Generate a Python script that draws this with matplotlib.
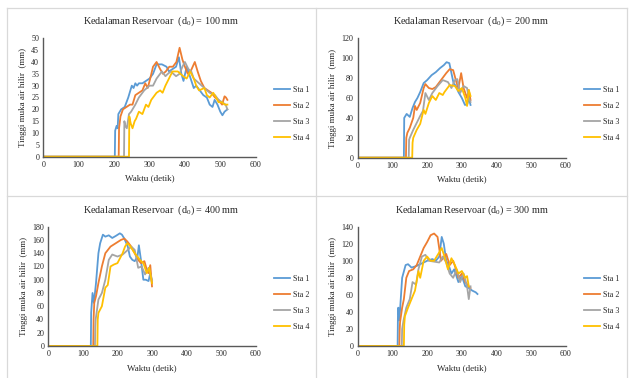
import matplotlib
matplotlib.use("Agg")
import matplotlib.pyplot as plt
from matplotlib.lines import Line2D

plt.rcParams['font.family'] = ['Liberation Serif', 'DejaVu Serif']
plt.rcParams['mathtext.fontset'] = 'custom'
plt.rcParams['mathtext.rm'] = 'Liberation Serif'
plt.rcParams['mathtext.it'] = 'Liberation Serif:italic'

stations = ["Sta 1", "Sta 2", "Sta 3", "Sta 4"]
colors = ["#5B9BD5", "#ED7D31", "#A5A5A5", "#FFC000"]

# ---- d0 = 100 mm ----
t100_s1 = [0, 202, 203, 207, 210, 212, 220, 230, 240, 250, 255, 260, 265, 270, 280, 290, 300, 310, 320, 335, 348, 355, 365, 375, 383, 390, 396, 405, 414, 425, 432, 442, 452, 462, 470, 478, 484, 492, 500, 506, 512, 520]
v100_s1 = [0, 0, 11, 13, 12, 18, 20, 21, 25, 30, 29, 31, 30, 31, 31, 32, 33, 35, 39, 39, 38, 36, 37, 38, 42, 35, 32, 38, 34, 29, 30, 28, 26, 25, 22, 21, 24, 22, 19, 17.5, 19, 20]
t100_s2 = [0, 213, 214, 218, 225, 235, 245, 252, 260, 270, 280, 288, 295, 302, 310, 320, 330, 338, 346, 356, 366, 376, 385, 393, 400, 408, 416, 428, 436, 445, 455, 465, 475, 485, 495, 505, 512, 516, 520]
v100_s2 = [0, 0, 12, 17, 20, 21, 22, 22, 26, 27, 28, 31, 29, 33, 38, 40, 37, 35, 36, 38, 38, 40, 46, 41, 38, 35, 36, 40, 36, 32, 29, 28, 27, 25, 24, 22, 25.5, 25, 24]
t100_s3 = [0, 228, 229, 232, 236, 242, 248, 260, 270, 285, 300, 310, 320, 335, 345, 352, 360, 375, 385, 393, 400, 410, 418, 425, 440, 455, 470, 485, 495, 505, 515, 520]
v100_s3 = [0, 0, 15, 13, 12, 18, 19, 22, 25, 28, 30, 30, 33, 36, 34, 35, 36, 34, 35, 38, 40, 37, 36, 33, 31, 29, 27, 26, 24, 23, 22, 20]
t100_s4 = [0, 242, 243, 247, 252, 258, 262, 270, 280, 290, 297, 305, 320, 330, 337, 345, 355, 365, 380, 395, 405, 415, 425, 432, 440, 455, 462, 470, 480, 488, 495, 505, 512, 520]
v100_s4 = [0, 0, 17, 14, 12, 15, 16, 19, 18, 22, 21, 24, 27, 28, 27, 30, 33, 36, 36, 34, 33, 36, 33, 30, 28, 29, 26, 25, 27, 25, 23, 23, 22, 22]

# ---- d0 = 200 mm ----
t200_s1 = [0, 133, 134, 141, 150, 158, 165, 172, 180, 190, 200, 213, 225, 237, 248, 256, 264, 270, 276, 283, 290, 300, 309, 316, 320, 325]
v200_s1 = [0, 0, 40, 44, 41, 50, 56, 60, 66, 75, 78, 83, 86, 90, 93, 96, 95, 85, 75, 72, 66, 60, 53, 54, 60, 53]
t200_s2 = [0, 139, 140, 143, 150, 160, 165, 170, 180, 190, 195, 205, 215, 225, 240, 255, 265, 275, 285, 290, 298, 305, 315, 320, 325]
v200_s2 = [0, 0, 20, 25, 30, 40, 52, 48, 55, 70, 74, 70, 69, 71, 78, 85, 89, 88, 75, 70, 85, 70, 60, 68, 58]
t200_s3 = [0, 147, 148, 150, 160, 170, 180, 188, 195, 205, 215, 230, 245, 260, 270, 280, 287, 295, 305, 315, 320, 325]
v200_s3 = [0, 0, 18, 20, 28, 35, 42, 47, 65, 58, 65, 72, 78, 76, 70, 78, 79, 65, 72, 70, 60, 56]
t200_s4 = [0, 157, 158, 160, 170, 180, 190, 195, 205, 215, 225, 235, 245, 250, 265, 280, 290, 300, 310, 315, 320, 325]
v200_s4 = [0, 0, 15, 20, 28, 34, 48, 44, 55, 62, 58, 65, 63, 66, 73, 72, 67, 70, 60, 52, 68, 62]

# ---- d0 = 400 mm ----
t400_s1 = [0, 123, 124, 128, 132, 138, 145, 150, 158, 165, 175, 185, 195, 207, 213, 220, 230, 236, 243, 250, 258, 262, 268, 275, 282, 290, 295, 300]
v400_s1 = [0, 0, 50, 80, 65, 95, 140, 155, 168, 165, 167, 163, 166, 170, 168, 162, 150, 135, 130, 128, 135, 152, 130, 100, 100, 98, 110, 95]
t400_s2 = [0, 130, 131, 133, 138, 145, 155, 165, 180, 195, 210, 220, 228, 240, 250, 260, 268, 278, 285, 290, 295, 300]
v400_s2 = [0, 0, 40, 65, 75, 95, 120, 140, 150, 155, 160, 162, 158, 150, 140, 130, 125, 128, 115, 110, 122, 90]
t400_s3 = [0, 135, 136, 137, 145, 155, 165, 175, 185, 200, 215, 230, 240, 250, 260, 270, 280, 290, 300]
v400_s3 = [0, 0, 30, 40, 70, 80, 100, 130, 138, 135, 138, 145, 150, 145, 118, 120, 108, 118, 100]
t400_s4 = [0, 142, 143, 145, 155, 165, 172, 180, 190, 200, 215, 222, 228, 235, 250, 265, 275, 285, 292, 300]
v400_s4 = [0, 0, 40, 50, 60, 88, 92, 120, 123, 125, 140, 150, 155, 152, 140, 130, 125, 110, 118, 95]

# ---- d0 = 300 mm ----
t300_s1 = [0, 115, 116, 117, 120, 128, 138, 145, 155, 170, 185, 200, 215, 225, 235, 242, 248, 255, 262, 270, 278, 290, 300, 310, 320, 330, 340, 345]
v300_s1 = [0, 0, 40, 45, 30, 80, 95, 96, 92, 94, 97, 100, 102, 100, 105, 128, 120, 100, 95, 85, 90, 75, 82, 70, 68, 65, 63, 61]
t300_s2 = [0, 120, 121, 122, 128, 133, 140, 148, 160, 170, 180, 190, 200, 210, 220, 230, 240, 255, 265, 275, 283, 290, 300, 310, 320, 325]
v300_s2 = [0, 0, 20, 28, 45, 55, 80, 88, 90, 95, 105, 115, 122, 130, 132, 128, 100, 108, 95, 100, 90, 80, 85, 75, 70, 68]
t300_s3 = [0, 127, 128, 132, 140, 150, 158, 168, 175, 185, 195, 205, 220, 235, 245, 255, 265, 275, 285, 295, 305, 315, 320, 325]
v300_s3 = [0, 0, 20, 30, 45, 55, 75, 72, 90, 105, 107, 100, 99, 98, 105, 98, 85, 80, 90, 75, 85, 70, 55, 70]
t300_s4 = [0, 133, 134, 136, 145, 155, 165, 175, 180, 190, 200, 210, 220, 235, 242, 250, 260, 270, 280, 290, 300, 310, 315, 320]
v300_s4 = [0, 0, 25, 35, 45, 55, 65, 88, 80, 100, 105, 100, 100, 110, 115, 105, 90, 103, 95, 85, 88, 80, 82, 70]

panels = [
    dict(title="Kedalaman Reservoar  (d$_0$) = 100 mm", ymax=50, ystep=5,
         series=[(t100_s1, v100_s1), (t100_s2, v100_s2), (t100_s3, v100_s3), (t100_s4, v100_s4)],
         ax_px=(43.3, 38.3, 255.7, 156.7), box=(7, 8, 316, 196), title_y=21,
         leg=(270, 82)),
    dict(title="Kedalaman Reservoar  (d$_0$) = 200 mm", ymax=120, ystep=20,
         series=[(t200_s1, v200_s1), (t200_s2, v200_s2), (t200_s3, v200_s3), (t200_s4, v200_s4)],
         ax_px=(357.7, 38.3, 566, 157.7), box=(316, 8, 627, 196), title_y=21,
         leg=(580, 82)),
    dict(title="Kedalaman Reservoar  (d$_0$) = 400 mm", ymax=180, ystep=20,
         series=[(t400_s1, v400_s1), (t400_s2, v400_s2), (t400_s3, v400_s3), (t400_s4, v400_s4)],
         ax_px=(48.3, 226.7, 255.7, 346), box=(7, 196, 316, 380), title_y=210,
         leg=(270, 271)),
    dict(title="Kedalaman Reservoar (d$_0$) = 300 mm", ymax=140, ystep=20,
         series=[(t300_s1, v300_s1), (t300_s2, v300_s2), (t300_s3, v300_s3), (t300_s4, v300_s4)],
         ax_px=(357.7, 226.7, 566, 346), box=(316, 196, 627, 380), title_y=210,
         leg=(580, 271)),
]

W, H = 633, 378
fig = plt.figure(figsize=(W / 100, H / 100), dpi=100)
fig.patch.set_facecolor("white")

border = "#d9d9d9"
fig.add_artist(Line2D([7 / W, 627 / W], [1 - 8 / H, 1 - 8 / H], color=border, lw=0.9))
fig.add_artist(Line2D([7 / W, 627 / W], [1 - 196 / H, 1 - 196 / H], color=border, lw=0.9))
fig.add_artist(Line2D([7 / W, 7 / W], [1 - 8 / H, 0], color=border, lw=0.9))
fig.add_artist(Line2D([316 / W, 316 / W], [1 - 8 / H, 0], color=border, lw=0.9))
fig.add_artist(Line2D([627 / W, 627 / W], [1 - 8 / H, 0], color=border, lw=0.9))

txt = "#262626"
for p in panels:
    x0, y0, x1, y1 = p["ax_px"]
    ax = fig.add_axes([x0 / W, 1 - y1 / H, (x1 - x0) / W, (y1 - y0) / H])
    for (t, v), c, lab in zip(p["series"], colors, stations):
        ax.plot(t, v, color=c, lw=1.3, label=lab, solid_joinstyle="round")
    ax.set_xlim(0, 600)
    ax.set_ylim(0, p["ymax"])
    ax.set_xticks(range(0, 601, 100))
    ax.set_yticks(range(0, p["ymax"] + 1, p["ystep"]))
    ax.tick_params(length=0, labelsize=5.8, pad=3, colors=txt)
    for s in ["top", "right"]:
        ax.spines[s].set_visible(False)
    for s in ["left", "bottom"]:
        ax.spines[s].set_color("#595959")
        ax.spines[s].set_linewidth(1.0)
    ax.set_xlabel("Waktu (detik)", fontsize=6.5, labelpad=4, color=txt)
    ax.set_ylabel("Tinggi muka air hilir  (mm)", fontsize=6.5, labelpad=3, color=txt)
    bx0, by0, bx1, by1 = p["box"]
    fig.text(((bx0 + bx1) / 2) / W, 1 - p["title_y"] / H, p["title"],
             ha="center", va="center", fontsize=7.3, color=txt)
    lx, ly = p["leg"]
    ax.legend(loc="upper left", bbox_to_anchor=(lx / W, 1 - ly / H),
              bbox_transform=fig.transFigure, frameon=False, fontsize=5.8,
              handlelength=2.0, labelspacing=1.0, handletextpad=0.3,
              borderpad=0, labelcolor=txt)

fig.savefig("out.png", dpi=100, facecolor="white")
